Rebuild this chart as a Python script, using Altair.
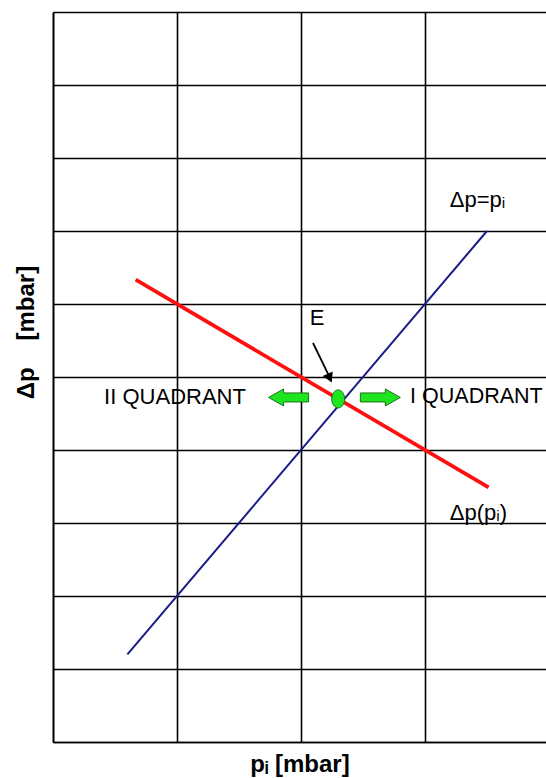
import altair as alt
import pandas as pd

FONT = "Liberation Sans, Arial, DejaVu Sans"

# plot range: 4 columns x 10 rows of grid, right edge just past the page
X_MAX = 3.976
Y_MAX = 10
x_grid = [0, 1, 2, 3]
y_grid = list(range(0, 11))

# straight line  Δp = p_i
line_pi = [0.6, 3.5]
line_dp = [1.2, 7.0]

# characteristic  Δp(p_i)
curve_pi = [0.68, 3.5]
curve_dp = [6.32, 3.5]

# equilibrium point E
e_pi = [2.30]
e_dp = [4.70]

# green direction arrows either side of E
dir_pi = [1.90, 2.64]
dir_dp = [4.72, 4.72]
dir_side = ["left", "right"]

# pointer to E
ptr_pi, ptr_dp = [2.097], [5.466]
ptr_pi2, ptr_dp2 = [2.222], [5.03]
ptr_tip_pi, ptr_tip_dp = [2.232], [4.985]

# text labels
lab_text = ["E", "II QUADRANT", "I QUADRANT", "Δp=pᵢ", "Δp(pᵢ)"]
lab_pi = [2.129, 0.984, 2.88, 3.20, 3.20]
lab_dp = [5.81, 4.73, 4.73, 7.42, 3.14]
lab_size = [22, 22, 21.5, 22, 22]
lab_align = ["center", "center", "left", "left", "left"]

X = alt.X(
    "x:Q",
    scale=alt.Scale(domain=[0, X_MAX], nice=False, zero=False),
    axis=alt.Axis(
        values=x_grid, grid=True, gridColor="#000000", gridWidth=1.6,
        ticks=False, labels=False, domainColor="#000000", domainWidth=1.6,
        title="pᵢ [mbar]", titleFont=FONT, titleFontSize=24,
        titleFontWeight="bold", titleColor="#000000", titlePadding=10,
    ),
)
Y = alt.Y(
    "y:Q",
    scale=alt.Scale(domain=[0, Y_MAX], nice=False, zero=False),
    axis=alt.Axis(
        values=y_grid, grid=True, gridColor="#000000", gridWidth=1.6,
        ticks=False, labels=False, domainColor="#000000", domainWidth=1.6,
        title="Δp\u00a0\u00a0\u00a0\u00a0[mbar]", titleFont=FONT, titleFontSize=24,
        titleFontWeight="bold", titleColor="#000000",
        titleX=-15, titleY=320,
    ),
)

line_df = pd.DataFrame({"x": line_pi, "y": line_dp})
curve_df = pd.DataFrame({"x": curve_pi, "y": curve_dp})
e_df = pd.DataFrame({"x": e_pi, "y": e_dp})
dir_df = pd.DataFrame({"x": dir_pi, "y": dir_dp, "side": dir_side})
ptr_df = pd.DataFrame({"x": ptr_pi, "y": ptr_dp, "x2": ptr_pi2, "y2": ptr_dp2})
tip_df = pd.DataFrame({"x": ptr_tip_pi, "y": ptr_tip_dp})
lab_df = pd.DataFrame(
    {"x": lab_pi, "y": lab_dp, "t": lab_text, "a": lab_align, "s": lab_size}
)

blue = alt.Chart(line_df).mark_line(color="#1a1a8a", strokeWidth=2).encode(x=X, y=Y)
red = alt.Chart(curve_df).mark_line(
    color="#ff1010", strokeWidth=3.8, strokeCap="square"
).encode(x=X, y=Y)

LEFT_ARROW = "M-1,0L-0.25,-0.425L-0.25,-0.225L1,-0.225L1,0.225L-0.25,0.225L-0.25,0.425Z"
RIGHT_ARROW = "M1,0L0.25,-0.425L0.25,-0.225L-1,-0.225L-1,0.225L0.25,0.225L0.25,0.425Z"

arrows = []
for side, path in (("left", LEFT_ARROW), ("right", RIGHT_ARROW)):
    arrows.append(
        alt.Chart(dir_df).transform_filter(alt.datum.side == side).mark_point(
            shape=path, size=1600, filled=True, fill="#1ee61e",
            stroke="#1f6e1f", strokeWidth=1, opacity=1,
        ).encode(x=X, y=Y)
    )

ELLIPSE = "M0,-1A0.72,1,0,1,1,0,1A0.72,1,0,1,1,0,-1Z"
e_point = alt.Chart(e_df).mark_point(
    shape=ELLIPSE, size=324, filled=True, fill="#1ee61e",
    stroke="#1f6e1f", strokeWidth=1, opacity=1,
).encode(x=X, y=Y)

pointer = alt.Chart(ptr_df).mark_rule(color="#000000", strokeWidth=1.8).encode(
    x=X, y=Y, x2="x2:Q", y2="y2:Q"
)
tip = alt.Chart(tip_df).mark_point(
    shape="triangle-up", size=120, angle=155, filled=True,
    color="#000000", opacity=1,
).encode(x=X, y=Y)

labels = []
for al in ("center", "left"):
    labels.append(
        alt.Chart(lab_df).transform_filter(alt.datum.a == al).mark_text(
            font=FONT, color="#000000", align=al, baseline="middle",
        ).encode(
            x=X, y=Y, text="t:N",
            size=alt.Size("s:Q", scale=None, legend=None),
        )
    )

chart = alt.layer(blue, red, *arrows, e_point, pointer, tip, *labels).properties(
    width=493,
    height=730,
    autosize=alt.AutoSizeParams(type="none"),
    padding={"left": 53, "top": 12, "right": 0, "bottom": 36},
    background="white",
).configure_view(strokeWidth=0)

chart.save("out.html", embed_options={"renderer": "svg", "actions": False})
